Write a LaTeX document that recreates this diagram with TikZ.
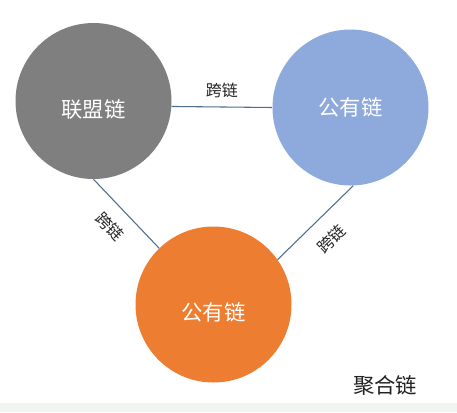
\documentclass[tikz,border=0pt]{standalone}
\usepackage{fontspec}
\setmainfont{Noto Sans CJK SC}
\usetikzlibrary{calc}
\definecolor{cgray}{HTML}{7F7F7F}
\definecolor{cblue}{HTML}{8EA9DB}
\definecolor{corange}{HTML}{ED7D31}
\definecolor{clink}{HTML}{4F6D8F}
\definecolor{cband}{HTML}{F0F4F0}
\definecolor{ctext}{HTML}{222222}
\tikzset{
  chain/.style={circle, draw=none, fill=#1, minimum size=117pt, inner sep=0pt},
  ctitle/.style={text=white, font=\fontsize{16pt}{18pt}\selectfont, inner sep=0pt},
  link/.style={draw=clink, line width=0.8pt},
  linklabel/.style={text=ctext, font=\fontsize{12pt}{14pt}\selectfont, inner sep=0pt},
}
\begin{document}
\begin{tikzpicture}[x=0.75pt, y=-0.75pt]
\useasboundingbox (0,0) rectangle (457,412);
\fill[white] (0,0) rectangle (457,412);
\fill[cband] (0,403) rectangle (457,412);
\node[chain=cgray] (gray) at (93.5,101) {};
\node[chain=cblue] (blue) at (350.5,107.5) {};
\node[chain=corange] (orange) at (213.5,304.5) {};
\node[ctitle] (tgray) at ($(gray.center)+(0,8)$) {联盟链};
\node[ctitle] (tblue) at (blue.center) {公有链};
\node[ctitle] (torange) at ($(orange.center)+(0,8)$) {公有链};
\draw[link] (gray.-4) -- node[linklabel, above=6.75pt] {跨链} (blue.180);
\draw[link] (gray.-90) -- node[linklabel, sloped, pos=0.48, below=9.75pt] {跨链} (orange.134.5);
\draw[link] (orange.35) -- node[linklabel, sloped, pos=0.5, below=11.25pt] {跨链} (blue.-88);
\node[text=ctext, font=\fontsize{16pt}{18pt}\selectfont, inner sep=0pt] (agg) at (385,385) {聚合链};
\end{tikzpicture}
\end{document}
